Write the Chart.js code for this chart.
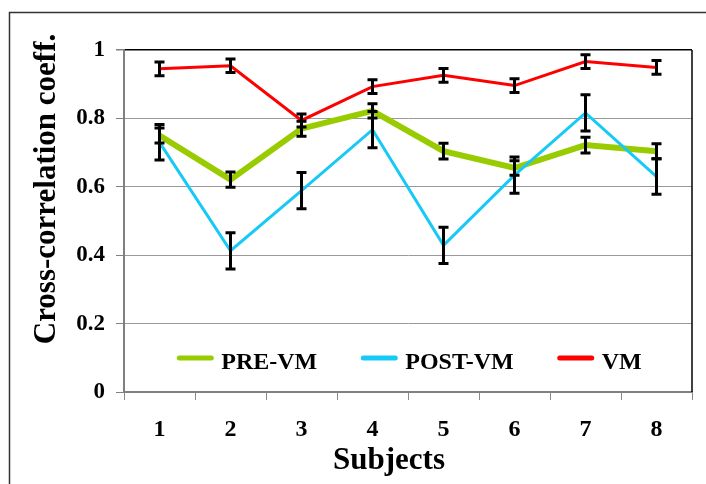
<!DOCTYPE html>
<html>
<head>
<meta charset="utf-8">
<script src="https://cdn.jsdelivr.net/npm/chart.js@4/dist/chart.umd.min.js"></script>
<style>
  html, body { margin: 0; padding: 0; background: #fff; }
  canvas { display: block; }
</style>
</head>
<body>
<canvas id="chart" width="706" height="484"></canvas>
<script>
// Cross-correlation coefficients per subject, with their error bars
const subjects = ['1', '2', '3', '4', '5', '6', '7', '8'];

const preVm     = [0.750, 0.621, 0.770, 0.822, 0.704, 0.655, 0.722, 0.704];
const preVmErr  = [0.022, 0.022, 0.022, 0.021, 0.023, 0.021, 0.023, 0.022];

const postVm    = [0.730, 0.413, 0.589, 0.767, 0.429, 0.634, 0.816, 0.630];
const postVmErr = [0.052, 0.053, 0.053, 0.053, 0.053, 0.053, 0.053, 0.052];

const vm        = [0.945, 0.954, 0.794, 0.893, 0.926, 0.896, 0.966, 0.949];
const vmErr     = [0.020, 0.020, 0.019, 0.020, 0.020, 0.020, 0.020, 0.020];

const seriesNames = ['PRE-VM', 'POST-VM', 'VM'];
const yTickValues = [0, 0.2, 0.4, 0.6, 0.8, 1];
const yTickLabels = ['0', '0.2', '0.4', '0.6', '0.8', '1'];
const yTitle = 'Cross-correlation coeff.';
const xTitle = 'Subjects';

const FONT = '"Liberation Serif", "Times New Roman", serif';

// white page with the outer frame (left and top edges)
const framePlugin = {
  id: 'frame',
  beforeDraw(chart) {
    const ctx = chart.ctx;
    ctx.save();
    ctx.fillStyle = '#fff';
    ctx.fillRect(0, 0, chart.width, chart.height);
    ctx.strokeStyle = '#333';
    ctx.lineWidth = 1.5;
    ctx.beginPath();
    ctx.moveTo(9.5, chart.height);
    ctx.lineTo(9.5, 12.5);
    ctx.lineTo(chart.width, 12.5);
    ctx.stroke();
    ctx.restore();
  }
};

// black vertical error bars with caps, drawn over the lines
const errorBarPlugin = {
  id: 'errorBars',
  afterDatasetsDraw(chart) {
    const ctx = chart.ctx;
    const x = chart.scales.x, y = chart.scales.y;
    const area = chart.chartArea;
    ctx.save();
    // right edge of the plot box
    ctx.strokeStyle = '#000';
    ctx.lineWidth = 1.5;
    ctx.beginPath();
    ctx.moveTo(area.right, area.top);
    ctx.lineTo(area.right, area.bottom);
    ctx.stroke();

    ctx.strokeStyle = '#000';
    ctx.lineWidth = 3;
    ctx.lineCap = 'butt';
    chart.data.datasets.forEach(ds => {
      ds.data.forEach((v, i) => {
        const e = ds.errors[i];
        const px = x.getPixelForValue(i);
        const yHi = y.getPixelForValue(v + e);
        const yLo = y.getPixelForValue(v - e);
        ctx.beginPath();
        ctx.moveTo(px, yHi);
        ctx.lineTo(px, yLo);
        ctx.moveTo(px - 5, yHi);
        ctx.lineTo(px + 5, yHi);
        ctx.moveTo(px - 5, yLo);
        ctx.lineTo(px + 5, yLo);
        ctx.stroke();
      });
    });
    ctx.restore();
  }
};

// axis titles and the in-plot legend
const labelsPlugin = {
  id: 'labels',
  afterDraw(chart) {
    const ctx = chart.ctx;
    const area = chart.chartArea;
    ctx.save();
    ctx.fillStyle = '#000';

    // y-axis title
    ctx.font = 'bold 31px ' + FONT;
    ctx.textAlign = 'center';
    ctx.textBaseline = 'alphabetic';
    ctx.save();
    ctx.translate(55, 189);
    ctx.rotate(-Math.PI / 2);
    ctx.fillText(yTitle, 0, 0);
    ctx.restore();

    // x-axis title
    ctx.fillText(xTitle, 389, 469);

    // legend
    ctx.font = 'bold 24px ' + FONT;
    const sample = 36, gap = 8, itemGap = 44;
    const items = chart.data.datasets.map(ds => ({
      label: ds.label, color: ds.borderColor, w: ctx.measureText(ds.label).width
    }));
    let total = 0;
    items.forEach((it, k) => { total += sample + gap + it.w + (k < items.length - 1 ? itemGap : 0); });
    let cx = (area.left + area.right) / 2 - total / 2 + 1.5;
    const lineY = area.bottom - 34;
    const textY = area.bottom - 23;
    ctx.textAlign = 'left';
    items.forEach(it => {
      ctx.strokeStyle = it.color;
      ctx.lineWidth = 5;
      ctx.lineCap = 'round';
      ctx.beginPath();
      ctx.moveTo(cx + 2, lineY);
      ctx.lineTo(cx + sample - 2, lineY);
      ctx.stroke();
      ctx.fillText(it.label, cx + sample + gap, textY);
      cx += sample + gap + it.w + itemGap;
    });
    ctx.restore();
  }
};

new Chart(document.getElementById('chart'), {
  type: 'line',
  data: {
    labels: subjects,
    datasets: [
      { label: seriesNames[0], data: preVm, errors: preVmErr,
        borderColor: '#99CC00', borderWidth: 6, order: 3 },
      { label: seriesNames[1], data: postVm, errors: postVmErr,
        borderColor: '#17C9F5', borderWidth: 3, order: 2 },
      { label: seriesNames[2], data: vm, errors: vmErr,
        borderColor: '#FF0000', borderWidth: 3, order: 1 }
    ]
  },
  options: {
    responsive: false,
    animation: false,
    devicePixelRatio: 1,
    layout: { padding: { top: 50, right: 14, left: 0, bottom: 0 } },
    elements: {
      line: { tension: 0, fill: false, borderJoinStyle: 'miter' },
      point: { radius: 0, hoverRadius: 0 }
    },
    plugins: {
      legend: { display: false },
      tooltip: { enabled: false }
    },
    scales: {
      x: {
        type: 'category',
        offset: true,
        afterFit(s) { s.height = 92; },
        grid: {
          offset: true,
          drawOnChartArea: false,
          drawTicks: true,
          tickLength: 8,
          color: '#8a8a8a',
          lineWidth: 1
        },
        border: { display: true, color: '#808080', width: 2 },
        ticks: {
          color: '#000',
          padding: 15,
          font: { family: FONT, size: 24, weight: 'bold' }
        }
      },
      y: {
        min: 0,
        max: 1,
        afterFit(s) { s.width = 124; },
        afterBuildTicks(s) { s.ticks = yTickValues.map(v => ({ value: v })); },
        grid: {
          color: c => (c.tick && c.tick.value === 1) ? '#000' : '#9a9a9a',
          lineWidth: c => (c.tick && c.tick.value === 1) ? 1.5 : 1,
          tickColor: '#808080',
          tickLength: 8
        },
        border: { display: true, color: '#808080', width: 2 },
        ticks: {
          color: '#000',
          padding: 11,
          font: { family: FONT, size: 23, weight: 'bold' },
          callback: (v) => {
            const k = yTickValues.findIndex(t => Math.abs(t - v) < 1e-9);
            return k >= 0 ? yTickLabels[k] : '';
          }
        }
      }
    }
  },
  plugins: [framePlugin, errorBarPlugin, labelsPlugin]
});
</script>
</body>
</html>
